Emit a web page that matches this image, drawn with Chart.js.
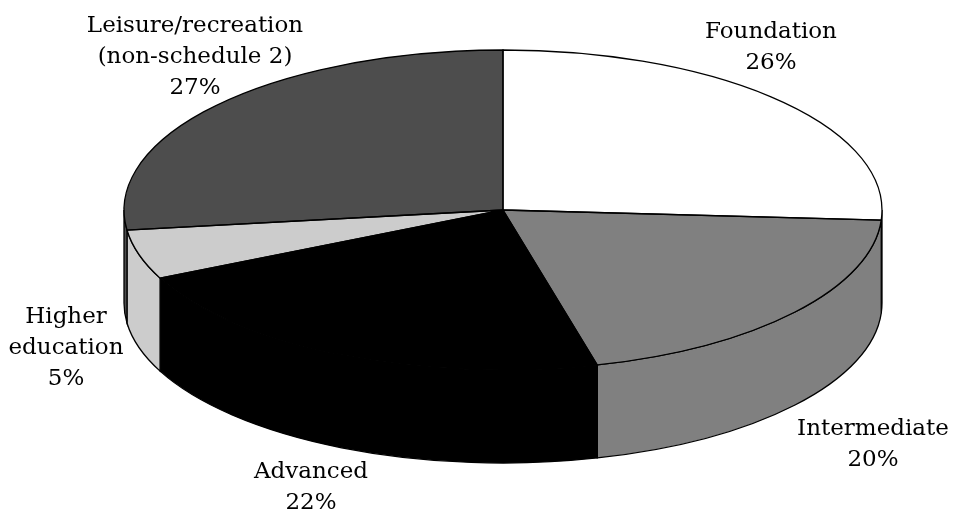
<!DOCTYPE html>
<html>
<head>
<meta charset="utf-8">
<title>Enrolment by programme level</title>
<script src="https://cdn.jsdelivr.net/npm/chart.js@4"></script>
<style>
  html, body { margin: 0; padding: 0; background: #fff; }
  canvas { display: block; }
</style>
</head>
<body>
<canvas id="pie" width="955" height="515"></canvas>
<script>
// Programme levels and their share of enrolment, in percent.
const categories = [
  ["Foundation"],
  ["Intermediate"],
  ["Advanced"],
  ["Higher", "education"],
  ["Leisure/recreation", "(non-schedule 2)"]
];
const shares = [26, 20, 22, 5, 27];
const sliceColours = ["#ffffff", "#808080", "#000000", "#cccccc", "#4d4d4d"];

// Where each caption sits: centre x and first baseline.
const captionAnchors = [
  { x: 771, y: 38 },
  { x: 873, y: 435 },
  { x: 311, y: 478 },
  { x: 66, y: 323 },
  { x: 195, y: 32 }
];
const captionFont = '23px "DejaVu Serif"';
const captionLeading = 31;

// Shape of the tilted disc.
const disc = { cx: 503, cy: 210, rx: 379, ry: 160, depth: 93 };
const outlineWidth = 1.3;

// Flattens the library's circular arcs into an ellipse and adds the rim.
const tiltedDisc = {
  id: "tiltedDisc",
  beforeDatasetsDraw(chart) {
    const ctx = chart.ctx;
    const arcs = chart.getDatasetMeta(0).data;
    ctx.save();
    ctx.lineWidth = outlineWidth;
    ctx.strokeStyle = "#000";
    arcs.forEach((arc, i) => {
      // Only the part of a slice on the near half of the disc shows a wall.
      const from = Math.max(arc.startAngle, 0);
      const to = Math.min(arc.endAngle, Math.PI);
      if (to <= from) return;
      ctx.beginPath();
      ctx.ellipse(disc.cx, disc.cy, disc.rx, disc.ry, 0, from, to);
      ctx.ellipse(disc.cx, disc.cy + disc.depth, disc.rx, disc.ry, 0, to, from, true);
      ctx.closePath();
      ctx.fillStyle = sliceColours[i];
      ctx.fill();
      ctx.stroke();
    });
    ctx.restore();

    const k = disc.rx / disc.ry;
    ctx.save();
    ctx.translate(disc.cx, disc.cy);
    ctx.scale(k, 1);
    ctx.translate(-disc.cx, -disc.cy);
  },
  afterDatasetsDraw(chart) {
    const ctx = chart.ctx;
    ctx.restore();

    // Outlines are stroked unscaled so the line weight stays even.
    ctx.save();
    ctx.lineWidth = outlineWidth;
    ctx.strokeStyle = "#000";
    chart.getDatasetMeta(0).data.forEach(arc => {
      ctx.beginPath();
      ctx.moveTo(disc.cx, disc.cy);
      ctx.ellipse(disc.cx, disc.cy, disc.rx, disc.ry, 0, arc.startAngle, arc.endAngle);
      ctx.closePath();
      ctx.stroke();
    });

    // Captions: category lines followed by the percentage.
    ctx.font = captionFont;
    ctx.fillStyle = "#000";
    ctx.textAlign = "center";
    ctx.textBaseline = "alphabetic";
    categories.forEach((lines, i) => {
      const anchor = captionAnchors[i];
      [...lines, shares[i] + "%"].forEach((line, n) => {
        ctx.fillText(line, anchor.x, anchor.y + n * captionLeading);
      });
    });
    ctx.restore();
  }
};

new Chart(document.getElementById("pie"), {
  type: "pie",
  data: {
    labels: categories,
    datasets: [{
      data: shares,
      backgroundColor: sliceColours,
      borderWidth: 0
    }]
  },
  options: {
    responsive: false,
    animation: false,
    events: [],
    layout: {
      padding: {
        left: disc.cx - disc.ry,
        right: 955 - disc.cx - disc.ry,
        top: disc.cy - disc.ry,
        bottom: 515 - disc.cy - disc.ry
      }
    },
    plugins: {
      legend: { display: false },
      tooltip: { enabled: false }
    }
  },
  plugins: [tiltedDisc]
});
</script>
</body>
</html>
